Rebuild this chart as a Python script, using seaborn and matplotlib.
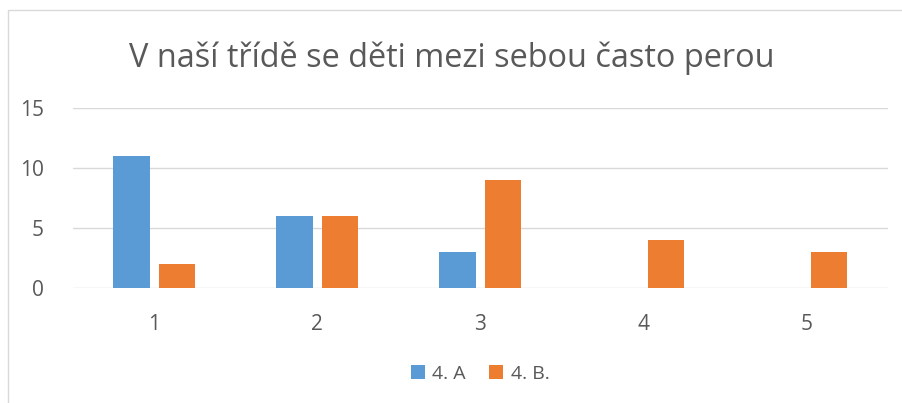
import seaborn as sns
import pandas as pd
import matplotlib.pyplot as plt
from matplotlib.patches import Rectangle

categories = ["1", "2", "3", "4", "5"]
trida_a = [11, 6, 3, 0, 0]
trida_b = [2, 6, 9, 4, 3]
series = ["4. A", "4. B."]

df = pd.DataFrame({
    "odpoved": categories * 2,
    "pocet": trida_a + trida_b,
    "trida": [series[0]] * 5 + [series[1]] * 5,
})

sns.set_style("white")
plt.rcParams["font.family"] = ["Open Sans", "DejaVu Sans"]

fig = plt.figure(figsize=(9.03, 4.03), dpi=100)
ax = fig.add_axes([0.0808, 0.2854, 0.9022, 0.4466])

sns.barplot(data=df, x="odpoved", y="pocet", hue="trida",
            palette=["#5B9BD5", "#ED7D31"], saturation=1, width=0.56, gap=0.2,
            linewidth=0, ax=ax, legend=True)

ax.set_ylim(0, 15)
ax.set_yticks([0, 5, 10, 15])
ax.yaxis.grid(True, color="#D9D9D9", lw=1)
ax.set_axisbelow(True)
for s in ax.spines.values():
    s.set_visible(False)
ax.tick_params(axis="both", length=0, labelsize=15, colors="#595959")
ax.tick_params(axis="x", pad=19)
ax.tick_params(axis="y", pad=21)
ax.set_xlabel("")
ax.set_ylabel("")

ax.legend(loc="upper center", bbox_to_anchor=(0.5, -0.33), ncol=2,
          frameon=False, fontsize=14, handlelength=0.7, handleheight=0.7,
          columnspacing=1.2, handletextpad=0.4, labelcolor="#595959")

fig.text(0.5, 0.855, "V naší třídě se děti mezi sebou často perou",
         ha="center", va="center", fontsize=23.4, color="#595959")

fig.patches.append(Rectangle((8 / 903, -0.1), 1.2, 1 - 10 / 403 + 0.1,
                             transform=fig.transFigure, fill=False,
                             edgecolor="#D9D9D9", lw=1))

plt.savefig("out.png")
